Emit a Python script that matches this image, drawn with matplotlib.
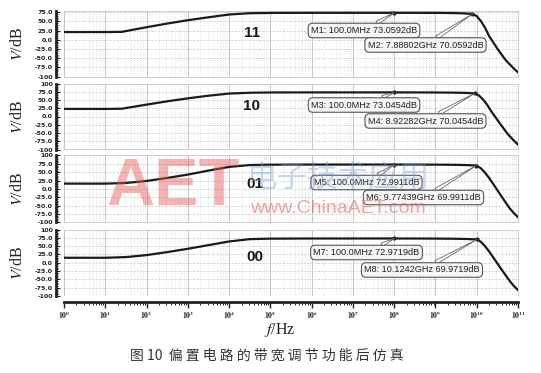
import numpy as np
import matplotlib.pyplot as plt
from matplotlib.ticker import LogLocator, MultipleLocator, FuncFormatter

plt.rcParams['mathtext.fontset'] = 'stix'

W, H = 541, 373

# traced curves: log10(f/Hz) and gain in dB, one pair per bias code
f11 = [0, 1.0, 1.4, 1.9, 2.5, 3.0, 3.5, 4.0, 4.5, 5.0, 6.0, 8.0, 9.0, 9.5, 9.7, 9.897,
       10.0, 10.1, 10.2, 10.3, 10.5, 10.7, 10.9, 11.0]
db11 = [21, 21, 21.5, 32, 44, 53, 61, 68.5, 72, 72.8, 73.05, 73.06, 72.9, 72.3, 71.5, 70.06,
        64, 51, 33, 10, -24, -55, -78, -88]

f10 = [0, 1.0, 1.4, 1.9, 2.5, 3.0, 3.5, 4.0, 4.5, 5.0, 6.0, 8.0, 9.0, 9.5, 9.75, 9.95,
       10.05, 10.15, 10.25, 10.35, 10.55, 10.75, 10.9, 11.0]
db10 = [23, 23, 23.5, 34, 46, 55, 63, 69.5, 72, 72.8, 73.04, 73.045, 72.8, 72.2, 71.5, 70.05,
        64, 52, 36, 16, -19, -53, -73, -85]

f01 = [0, 1.0, 1.5, 2.0, 2.5, 3.0, 3.5, 4.0, 4.5, 5.0, 6.0, 8.0, 9.0, 9.5, 9.8, 9.99,
       10.1, 10.2, 10.3, 10.4, 10.6, 10.8, 10.9, 11.0]
db01 = [16, 16, 18, 24, 33, 43, 55, 66, 71.5, 72.6, 72.95, 72.99, 72.7, 72.1, 71.3, 69.99,
        62, 49, 33, 15, -22, -58, -72, -84]

f00 = [0, 1.0, 1.5, 2.0, 2.5, 3.0, 3.5, 4.0, 4.5, 5.0, 6.0, 8.0, 9.0, 9.5, 9.8, 10.005,
       10.1, 10.2, 10.3, 10.4, 10.6, 10.8, 10.9, 11.0]
db00 = [15, 15, 17, 23, 32, 42, 53, 64, 71, 72.5, 72.93, 72.97, 72.7, 72.1, 71.3, 69.97,
        63, 50, 34, 16, -20, -55, -70, -82]

codes = ['11', '10', '01', '00']
curves_f = [f11, f10, f01, f00]
curves_db = [db11, db10, db01, db00]

marker_f = [[1.0e8, 7.88802e9], [1.0e8, 8.92282e9], [1.0e8, 9.77439e9], [1.0e8, 10.1242e9]]
marker_db = [[73.0592, 70.0592], [73.0454, 70.0454], [72.9911, 69.9911], [72.9719, 69.9719]]
marker_txt = [["M1: 100.0MHz 73.0592dB", "M2: 7.88802GHz 70.0592dB"],
              ["M3: 100.0MHz 73.0454dB", "M4: 8.92282GHz 70.0454dB"],
              ["M5: 100.0MHz 72.9911dB", "M6: 9.77439GHz 69.9911dB"],
              ["M7: 100.0MHz 72.9719dB", "M8: 10.1242GHz 69.9719dB"]]

# layout in reference pixels (top, bottom, ymax)
rows = [(11, 76.7, 78), (83.5, 149.5, 100), (155.5, 222.5, 100), (229.5, 296, 100)]
box_pos = [[(364, 30.5), (425.5, 45)], [(364, 105), (425.5, 121)],
           [(366.5, 182.5), (423.5, 197.5)], [(366.5, 252.5), (422, 270)]]
code_pos = [(252, 33), (252, 106), (255, 184), (255, 257)]
x0, x1 = 64, 518


def fx(x):
    return x / W


def fy(y):
    return 1 - y / H


fig = plt.figure(figsize=(W / 100, H / 100), dpi=100)

for i, (top, bot, ymax) in enumerate(rows):
    ax = fig.add_axes([fx(x0), fy(bot), (x1 - x0) / W, (bot - top) / H])
    ax.plot(10 ** np.array(curves_f[i]), curves_db[i], color='#1a1a1a', lw=1.6, zorder=3)
    ax.plot(marker_f[i], marker_db[i], 'o', ms=2, color='#222222', zorder=4)
    ax.set_xscale('log')
    ax.set_xlim(1, 1e11)
    ax.set_ylim(-100, ymax)
    ax.xaxis.set_major_locator(LogLocator(base=10, numticks=20))
    ax.xaxis.set_minor_locator(LogLocator(base=10, subs=np.arange(2, 10), numticks=20))
    ax.yaxis.set_major_locator(MultipleLocator(25))
    ax.yaxis.set_minor_locator(MultipleLocator(5))
    ax.yaxis.set_major_formatter(FuncFormatter(
        lambda v, p: f'{v:.0f}' if abs(v) >= 100 else f'{v:.1f}'))
    ax.grid(which='major', axis='x', color='#bcbcbc', lw=0.6)
    ax.grid(which='minor', axis='x', color='#d4d4d4', lw=0.5, ls=':')
    ax.grid(which='major', axis='y', color='#c4c4c4', lw=0.5, ls=(0, (3, 2)))
    for s in ['top', 'right', 'bottom']:
        ax.spines[s].set_color('#c8c8c8')
        ax.spines[s].set_linewidth(0.6)
    ax.spines['left'].set_position(('outward', 6))
    ax.spines['left'].set_linewidth(2)
    ax.spines['left'].set_color('#222222')
    ax.tick_params(axis='y', which='major', direction='in', length=3, width=0.8,
                   labelsize=4.5, pad=2, colors='#222222')
    ax.tick_params(axis='y', which='minor', direction='in', length=1.5, width=0.6,
                   colors='#222222')
    plt.setp(ax.get_yticklabels(), fontweight='bold')

    if i < 3:
        ax.tick_params(axis='x', which='both', length=0, labelbottom=False)
    else:
        ax.spines['bottom'].set_position(('outward', 4))
        ax.spines['bottom'].set_linewidth(2)
        ax.spines['bottom'].set_color('#222222')
        ax.xaxis.set_major_formatter(FuncFormatter(
            lambda v, p: r'$\mathbf{10^{%d}}$' % round(np.log10(v))))
        ax.tick_params(axis='x', which='major', direction='out', length=4, width=1,
                       labelsize=5.5, pad=1.5, colors='#222222')
        ax.tick_params(axis='x', which='minor', direction='out', length=2.5, width=0.7,
                       colors='#222222')

    for k in range(2):
        px, py = box_pos[i][k]
        ax.annotate(marker_txt[i][k], xy=(marker_f[i][k], marker_db[i][k]),
                    xytext=(fx(px), fy(py)), textcoords='figure fraction',
                    ha='center', va='center', fontsize=6.6, family='Liberation Sans',
                    color='#222222', zorder=5,
                    bbox=dict(boxstyle='round,pad=0.3,rounding_size=0.5', fc='#f5f5f5',
                              ec='#555555', lw=0.8),
                    arrowprops=dict(arrowstyle='wedge,tail_width=0.4', fc='white',
                                    ec='#666666', lw=0.6, shrinkA=0, shrinkB=0))

    cx, cy = code_pos[i]
    fig.text(fx(cx), fy(cy), codes[i], ha='center', va='center', fontsize=11,
             fontweight='bold', family='Liberation Sans', color='#1a1a1a')
    fig.text(fx(18), fy((top + bot) / 2), r'$V$/dB', rotation=90, ha='center',
             va='center', fontsize=11.5, family='Liberation Serif', color='#222222')

fig.text(fx(280), fy(330), r'$f$/Hz', ha='center', va='center', fontsize=11.5,
         family='Liberation Serif', color='#222222')
fig.text(fx(267), fy(356), '图 10  偏 置 电 路 的 带 宽 调 节 功 能 后 仿 真', ha='center',
         va='center', fontsize=10, family=['Noto Sans CJK SC', 'DejaVu Sans'],
         color='#333333')

# watermark
fig.text(fx(173), fy(188), 'AET', ha='center', va='center', fontsize=48,
         fontweight='bold', family='Liberation Sans', color='#e85a5a', alpha=0.45)
fig.text(fx(338), fy(178), '电子技术应用', ha='center', va='center', fontsize=22,
         family=['Noto Sans CJK SC'], color='#6f9fd6', alpha=0.4)
fig.text(fx(338), fy(208), 'www.ChinaAET.com', ha='center', va='center', fontsize=14,
         family='Liberation Sans', color='#e85a5a', alpha=0.55)

fig.savefig('out.png', dpi=100)
